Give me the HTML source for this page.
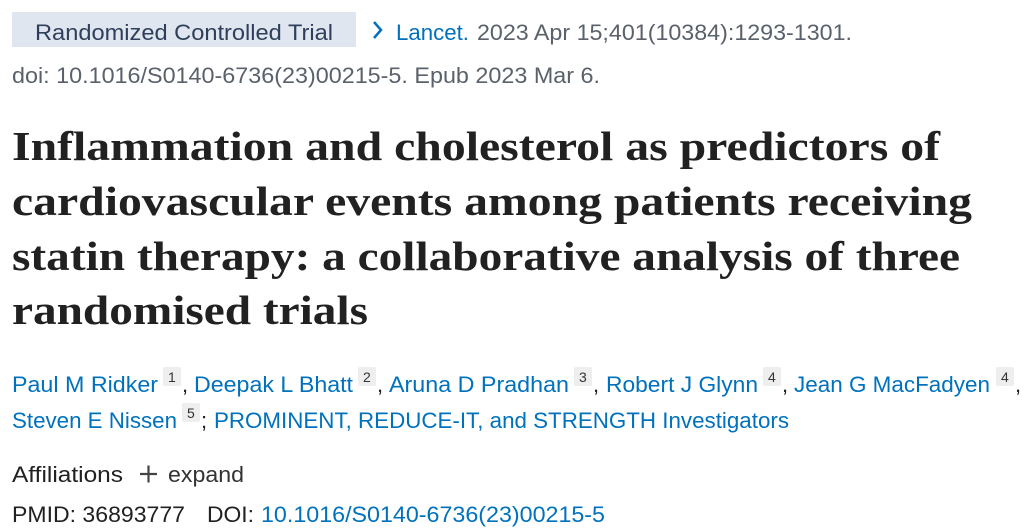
<!DOCTYPE html>
<html><head><meta charset="utf-8"><style>
html,body{margin:0;padding:0;background:#fff;width:1026px;height:531px;overflow:hidden}
svg{display:block}
.s{font-family:"Liberation Sans",sans-serif;font-size:22px}
.t{font-family:"Liberation Serif",serif;font-size:41px;font-weight:bold;fill:#212121}
.b{fill:#0071bc}.g{fill:#5b616b}.k{fill:#212121}
.sup{font-family:"Liberation Sans",sans-serif;font-size:14px;fill:#333}
</style></head><body>
<svg width="1026" height="531">
<rect x="12" y="12" width="344" height="35" fill="#dfe6f0"/>
<text class="s" x="35" y="40" textLength="298" lengthAdjust="spacingAndGlyphs" fill="#2f3e5a">Randomized Controlled Trial</text>
<path d="M374,22 L381,30 L374,38" stroke="#0071bc" stroke-width="2.5" fill="none"/>
<text class="s b" x="396" y="40" textLength="73" lengthAdjust="spacingAndGlyphs">Lancet.</text>
<text class="s g" x="477" y="40" textLength="375" lengthAdjust="spacingAndGlyphs">2023 Apr 15;401(10384):1293-1301.</text>
<text class="s g" x="12" y="83" textLength="588" lengthAdjust="spacingAndGlyphs">doi: 10.1016/S0140-6736(23)00215-5. Epub 2023 Mar 6.</text>
<g>
<text class="t" x="12" y="160" textLength="928" lengthAdjust="spacingAndGlyphs">Inflammation and cholesterol as predictors of</text>
<text class="t" x="12" y="215" textLength="960" lengthAdjust="spacingAndGlyphs">cardiovascular events among patients receiving</text>
<text class="t" x="12" y="270" textLength="948" lengthAdjust="spacingAndGlyphs">statin therapy: a collaborative analysis of three</text>
<text class="t" x="12" y="324" textLength="356" lengthAdjust="spacingAndGlyphs">randomised trials</text>
</g>
<g>
<text class="s b" x="12" y="392" textLength="146" lengthAdjust="spacingAndGlyphs">Paul M Ridker</text>
<rect x="163" y="367" width="18" height="19" rx="2" fill="#eeeeee"/><text class="sup" x="168" y="382">1</text>
<text class="s k" x="182" y="392">,</text>
<text class="s b" x="194" y="392" textLength="159" lengthAdjust="spacingAndGlyphs">Deepak L Bhatt</text>
<rect x="358" y="367" width="18" height="19" rx="2" fill="#eeeeee"/><text class="sup" x="363" y="382">2</text>
<text class="s k" x="377" y="392">,</text>
<text class="s b" x="389" y="392" textLength="180" lengthAdjust="spacingAndGlyphs">Aruna D Pradhan</text>
<rect x="574" y="367" width="18" height="19" rx="2" fill="#eeeeee"/><text class="sup" x="579" y="382">3</text>
<text class="s k" x="593" y="392">,</text>
<text class="s b" x="606" y="392" textLength="152" lengthAdjust="spacingAndGlyphs">Robert J Glynn</text>
<rect x="763" y="367" width="18" height="19" rx="2" fill="#eeeeee"/><text class="sup" x="768" y="382">4</text>
<text class="s k" x="782" y="392">,</text>
<text class="s b" x="794" y="392" textLength="196" lengthAdjust="spacingAndGlyphs">Jean G MacFadyen</text>
<rect x="996" y="367" width="18" height="19" rx="2" fill="#eeeeee"/><text class="sup" x="1001" y="382">4</text>
<text class="s k" x="1015" y="392">,</text>
<text class="s b" x="12" y="428" textLength="165" lengthAdjust="spacingAndGlyphs">Steven E Nissen</text>
<rect x="182" y="403" width="18" height="19" rx="2" fill="#eeeeee"/><text class="sup" x="187" y="418">5</text>
<text class="s k" x="201" y="428">;</text>
<text class="s b" x="214" y="428" textLength="575" lengthAdjust="spacingAndGlyphs">PROMINENT, REDUCE-IT, and STRENGTH Investigators</text>
</g>
<text class="s k" x="12" y="482" textLength="111" lengthAdjust="spacingAndGlyphs">Affiliations</text>
<g>
<path d="M140,474 H157 M148.5,465.5 V482.5" stroke="#444" stroke-width="2.2"/>
<text class="s" x="168" y="482" textLength="76" lengthAdjust="spacingAndGlyphs" fill="#333">expand</text>
</g>
<text class="s k" x="12" y="522" textLength="173" lengthAdjust="spacingAndGlyphs">PMID: 36893777</text>
<text class="s k" x="207" y="522" textLength="47" lengthAdjust="spacingAndGlyphs">DOI:</text>
<text class="s b" x="261" y="522" textLength="344" lengthAdjust="spacingAndGlyphs">10.1016/S0140-6736(23)00215-5</text>
</svg>
</body></html>
